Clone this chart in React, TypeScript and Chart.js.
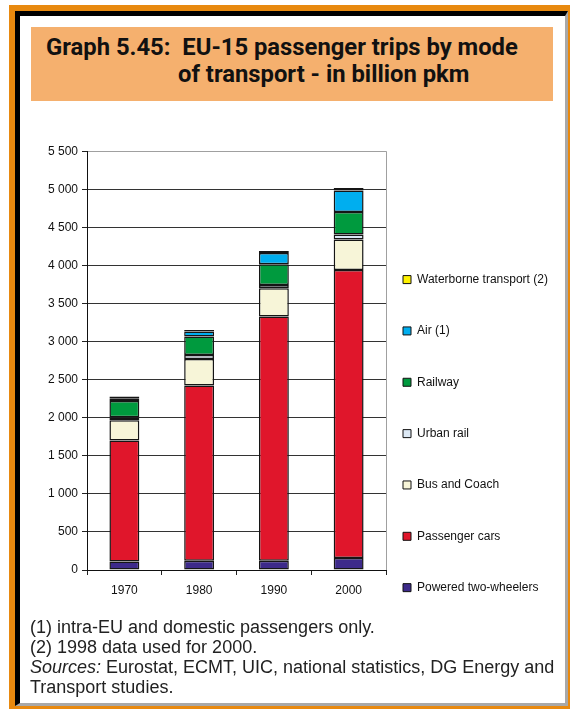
import React, { useEffect, useRef } from 'react';
import { Chart, registerables } from 'chart.js';

Chart.register(...registerables);

const years = ['1970', '1980', '1990', '2000'];
const poweredTwoWheelers = [110, 122, 122, 157];
const passengerCars = [1590, 2300, 3207, 3783];
const busAndCoach = [265, 350, 372, 402];
const urbanRail = [40, 50, 43, 65];
const railway = [215, 245, 271, 296];
const air = [35, 65, 148, 280];
const waterborne = [25, 20, 26, 34];

const seriesLabels = [
  'Powered two-wheelers',
  'Passenger cars',
  'Bus and Coach',
  'Urban rail',
  'Railway',
  'Air (1)',
  'Waterborne transport (2)',
];
const seriesValues = [poweredTwoWheelers, passengerCars, busAndCoach, urbanRail, railway, air, waterborne];
const seriesColors = ['#3d2a8a', '#e0162b', '#f7f5d8', '#dde9f5', '#009a3e', '#00aeef', '#fff200'];

const yTickValues = [0, 500, 1000, 1500, 2000, 2500, 3000, 3500, 4000, 4500, 5000, 5500];

const fmt = (v: number) =>
  v >= 1000 ? `${Math.floor(v / 1000)} ${String(v % 1000).padStart(3, '0')}` : String(v);

const axisFont = { family: "'Liberation Sans', Arial, sans-serif", size: 12 };

function ChartBox() {
  const ref = useRef<HTMLCanvasElement | null>(null);
  useEffect(() => {
    if (!ref.current) return;
    const chart = new Chart(ref.current, {
      type: 'bar',
      data: {
        labels: years,
        datasets: seriesLabels.map((label, i) => ({
          label,
          data: seriesValues[i],
          backgroundColor: seriesColors[i],
          borderColor: '#151515',
          borderWidth: 1.5,
          borderSkipped: false,
          barPercentage: 0.8,
          categoryPercentage: 0.5,
        })),
      },
      options: {
        animation: false,
        responsive: false,
        maintainAspectRatio: false,
        layout: { padding: 0 },
        plugins: {
          tooltip: { enabled: false },
          legend: {
            position: 'right',
            align: 'end',
            reverse: true,
            maxWidth: 170,
            labels: {
              boxWidth: 8,
              boxHeight: 8,
              padding: 17,
              color: '#111',
              font: { family: "'Liberation Sans', Arial, sans-serif", size: 12, lineHeight: 1.431 },
              generateLabels: (c: any) =>
                (Chart.defaults.plugins.legend.labels.generateLabels as any)(c).map((l: any) => ({
                  ...l,
                  text: [l.text, ''],
                  lineWidth: 1,
                  strokeStyle: '#111',
                })),
            },
          },
        },
        scales: {
          x: {
            stacked: true,
            grid: {
              offset: true,
              drawOnChartArea: true,
              color: (c: any) => (c.index === undefined ? '#a0a0a0' : 'rgba(0,0,0,0)'),
              tickColor: '#222',
              tickLength: 5,
            },
            border: { color: '#111', width: 1 },
            ticks: { color: '#111', padding: 8, font: axisFont },
            afterFit: (s: any) => {
              s.height = 63;
            },
          },
          y: {
            stacked: true,
            min: 0,
            max: 5500,
            afterBuildTicks: (s: any) => {
              s.ticks = yTickValues.map((v) => ({ value: v }));
            },
            ticks: { color: '#111', padding: 4, font: axisFont, callback: (v: any) => fmt(Number(v)) },
            grid: {
              color: (c: any) => (c.tick && c.tick.value === 5500 ? '#a0a0a0' : '#333'),
              tickColor: '#222',
              tickLength: 5,
            },
            border: { color: '#111', width: 1 },
            afterFit: (s: any) => {
              s.width = 67;
            },
          },
        },
      } as any,
    });
    return () => chart.destroy();
  }, []);
  return (
    <canvas
      ref={ref}
      width={536}
      height={493}
      style={{ position: 'absolute', left: 20, top: 140, width: 536, height: 493 }}
    />
  );
}

export default function App() {
  return (
    <div style={{ position: 'absolute', left: 0, top: 0, width: 570, height: 709, background: '#fff', overflow: 'hidden' }}>
      <div style={{ position: 'absolute', left: 9, top: 5, width: 561, height: 704, background: '#e8890f' }} />
      <div
        style={{
          position: 'absolute',
          left: 15,
          top: 11,
          width: 553,
          height: 695,
          boxSizing: 'border-box',
          background: '#fff',
          borderLeft: '5px solid #000',
          borderTop: '5px solid #000',
          borderRight: '3px solid #a8a8a8',
          borderBottom: '3px solid #a8a8a8',
        }}
      />
      <div
        style={{
          position: 'absolute',
          left: 31,
          top: 27,
          width: 522,
          height: 74,
          background: '#f5b06e',
        }}
      />
      <div
        style={{
          position: 'absolute',
          left: 46,
          top: 34,
          fontFamily: "Roboto, 'Liberation Sans', sans-serif",
          fontWeight: 700,
          fontSize: 23.8,
          lineHeight: '27px',
          color: '#111',
          whiteSpace: 'pre',
        }}
      >
        <div>{'Graph 5.45:  EU-15 passenger trips by mode'}</div>
        <div style={{ paddingLeft: 132 }}>of transport - in billion pkm</div>
      </div>
      <ChartBox />
      <div
        style={{
          position: 'absolute',
          left: 30,
          top: 617,
          fontFamily: "'Liberation Sans', Arial, sans-serif",
          fontSize: 18,
          lineHeight: '20px',
          color: '#222',
          whiteSpace: 'pre',
        }}
      >
        <div>(1) intra-EU and domestic passengers only.</div>
        <div>(2) 1998 data used for 2000.</div>
        <div>
          <i>Sources:</i> Eurostat, ECMT, UIC, national statistics, DG Energy and
        </div>
        <div>Transport studies.</div>
      </div>
    </div>
  );
}
